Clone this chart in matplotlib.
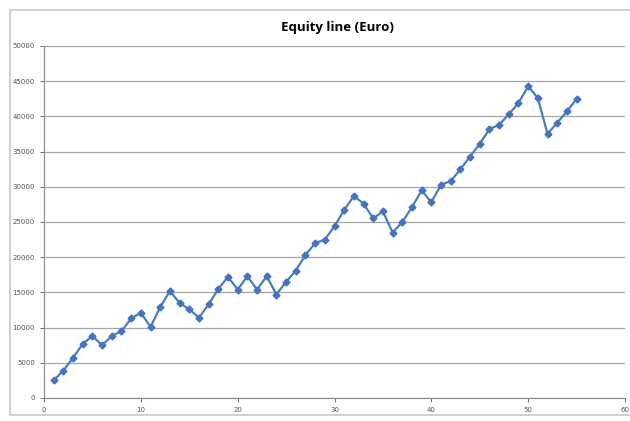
import matplotlib
matplotlib.use("Agg")
import matplotlib.pyplot as plt
from matplotlib.patches import Rectangle

# trade number vs equity
trades = list(range(1, 56))
equity = [2500, 3900, 5700, 7700, 8800, 7500, 8800, 9500, 11300, 12100,
          10100, 12900, 15200, 13500, 12600, 11400, 13300, 15500, 17200, 15400,
          17300, 15400, 17300, 14700, 16500, 18100, 20300, 22000, 22500, 24400,
          26700, 28700, 27600, 25500, 26500, 23500, 25000, 27100, 29500, 27800,
          30300, 30800, 32500, 34300, 36100, 38200, 38800, 40300, 41900, 44300,
          42600, 37500, 39100, 40700, 42500]
xticks = [0, 10, 20, 30, 40, 50, 60]
yticks = list(range(0, 50001, 5000))

fig = plt.figure(figsize=(6.3, 4.21), dpi=100)
fig.patches.append(Rectangle((10/630, 6/421), 1.2, 405/421, transform=fig.transFigure,
                             fill=False, edgecolor="#c8c8c8", linewidth=1.2))

ax = fig.add_axes([44/630, 23/421, 581/630, 352/421])
ax.plot(trades, equity, color="#4a7ebb", linewidth=1.6, marker="D",
        markersize=3.5, markerfacecolor="#4572c4", markeredgecolor="#4572c4")

ax.set_xlim(0, 60)
ax.set_ylim(0, 50000)
ax.set_xticks(xticks)
ax.set_yticks(yticks)
ax.tick_params(labelsize=5, colors="#555555", length=3, width=0.6)
ax.grid(axis="y", color="#a6a6a6", linewidth=0.9)
ax.set_axisbelow(True)
for s in ["top", "right"]:
    ax.spines[s].set_visible(False)
for s in ["left", "bottom"]:
    ax.spines[s].set_color("#888888")
    ax.spines[s].set_linewidth(0.8)

fig.text(337/630, 1 - 27/421, "Equity line (Euro)", ha="center", va="center",
         fontsize=9.5, fontweight="bold", family="Open Sans")

fig.savefig("out.png", dpi=100)
